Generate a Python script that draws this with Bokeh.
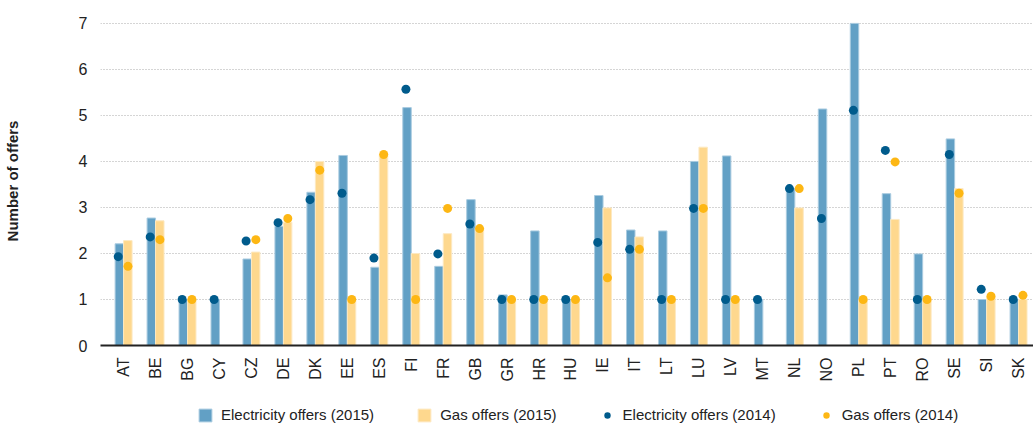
import math
import numpy as np
from bokeh.plotting import figure
from bokeh.layouts import column
from bokeh.models import (ColumnDataSource, FixedTicker, Legend, LegendItem, Range1d)
from bokeh.embed import file_html
from bokeh.resources import INLINE

cats = ["AT", "BE", "BG", "CY", "CZ", "DE", "DK", "EE", "ES", "FI", "FR", "GB", "GR", "HR",
        "HU", "IE", "IT", "LT", "LU", "LV", "MT", "NL", "NO", "PL", "PT", "RO", "SE", "SI", "SK"]
elec15 = [2.21, 2.77, 1.0, 1.0, 1.88, 2.59, 3.33, 4.13, 1.70, 5.17, 1.72, 3.17, 1.10, 2.49,
          1.0, 3.26, 2.51, 2.49, 4.0, 4.12, 1.0, 3.41, 5.14, 7.0, 3.30, 1.99, 4.49, 1.0, 1.0]
gas15 = [2.28, 2.71, 1.0, None, 2.03, 2.68, 4.0, 1.0, 4.15, 2.0, 2.43, 2.55, 1.0, 1.0,
         1.0, 2.99, 2.36, 1.0, 4.31, 1.0, None, 2.99, None, 1.0, 2.74, 1.0, 3.41, 1.05, 1.0]
elec14 = [1.93, 2.36, 1.0, 1.0, 2.27, 2.67, 3.17, 3.31, 1.90, 5.57, 1.99, 2.64, 1.0, 1.0,
          1.0, 2.24, 2.09, 1.0, 2.98, 1.0, 1.0, 3.41, 2.76, 5.11, 4.24, 1.0, 4.15, 1.22, 1.0]
gas14 = [1.72, 2.30, 1.0, None, 2.30, 2.76, 3.81, 1.0, 4.15, 1.0, 2.98, 2.54, 1.0, 1.0,
         1.0, 1.47, 2.09, 1.0, 2.98, 1.0, None, 3.41, None, 1.0, 3.99, 1.0, 3.31, 1.07, 1.09]
y_ticks = [0, 1, 2, 3, 4, 5, 6, 7]
series_labels = ["Electricity offers (2015)", "Gas offers (2015)",
                 "Electricity offers (2014)", "Gas offers (2014)"]

FONT = "Liberation Sans"
COL_E15 = "#62a0c5"
COL_G15 = "#fed88e"
COL_E14 = "#005b8c"
COL_G14 = "#fdb714"
EDGE_E = "#a9cbe0"
EDGE_G = "#fde9c2"


def arr(v):
    return np.array([np.nan if x is None else x for x in v], dtype=float)


idx = np.arange(len(cats), dtype=float)
src = ColumnDataSource(dict(
    x_e=idx - 0.13, x_g=idx + 0.135, x_de=idx - 0.165, x_dg=idx + 0.14,
    elec15=arr(elec15), gas15=arr(gas15), elec14=arr(elec14), gas14=arr(gas14),
))

W = 1033
H1 = 394
H2 = 30

p = figure(width=W, height=H1, output_backend="svg", toolbar_location=None,
           x_range=Range1d(-0.72, 28.47), y_range=Range1d(0, 7.15),
           min_border_left=100, min_border_right=0, min_border_top=16,
           min_border_bottom=H1 - 345)
p.outline_line_color = None

p.vbar(x="x_e", top="elec15", width=0.265, source=src, fill_color=COL_E15,
       line_color=EDGE_E, line_width=1)
p.vbar(x="x_g", top="gas15", width=0.265, source=src, fill_color=COL_G15,
       line_color=EDGE_G, line_width=1)
p.scatter(x="x_de", y="elec14", size=9, source=src, fill_color=COL_E14, line_color=None)
p.scatter(x="x_dg", y="gas14", size=9, source=src, fill_color=COL_G14, line_color=None)

# axes
p.xaxis.ticker = FixedTicker(ticks=list(idx))
p.xaxis.major_label_overrides = {float(i): c for i, c in enumerate(cats)}
p.xaxis.major_label_orientation = math.pi / 2
p.xaxis.major_tick_line_color = None
p.xaxis.minor_tick_line_color = None
p.xaxis.axis_line_color = "#222222"
p.xaxis.axis_line_width = 2
p.xaxis.major_label_standoff = 6
p.xaxis.major_label_text_font = FONT
p.xaxis.major_label_text_font_size = "16px"
p.xaxis.major_label_text_color = "#222222"

p.yaxis.ticker = FixedTicker(ticks=y_ticks)
p.yaxis.axis_line_color = None
p.yaxis.major_tick_line_color = None
p.yaxis.minor_tick_line_color = None
p.yaxis.major_label_standoff = 7
p.yaxis.major_label_text_font = FONT
p.yaxis.major_label_text_font_size = "16px"
p.yaxis.major_label_text_color = "#222222"
p.yaxis.axis_label = "Number of offers"
p.yaxis.axis_label_text_font = FONT
p.yaxis.axis_label_text_font_style = "bold"
p.yaxis.axis_label_text_font_size = "15px"
p.yaxis.axis_label_text_color = "#222222"
p.yaxis.axis_label_standoff = 55

p.xgrid.grid_line_color = None
p.ygrid.grid_line_color = "#aaaaaa"
p.ygrid.grid_line_dash = "1 2"
p.ygrid.grid_line_width = 1

# legend strip (separate figure so nothing is clipped); dummy glyphs lie outside its ranges
lg = figure(width=W, height=H2, output_backend="svg", toolbar_location=None,
            x_range=Range1d(0, 1), y_range=Range1d(0, 1),
            min_border_left=0, min_border_right=0, min_border_top=0, min_border_bottom=0)
lg.outline_line_color = None
lg.axis.visible = False
lg.grid.grid_line_color = None
l1 = lg.vbar(x=[-10], top=[-5], bottom=[-6], width=0.1, fill_color=COL_E15, line_color=EDGE_E)
l2 = lg.vbar(x=[-10], top=[-5], bottom=[-6], width=0.1, fill_color=COL_G15, line_color=EDGE_G)
l3 = lg.scatter(x=[-10], y=[-10], size=9, fill_color=COL_E14, line_color=None)
l4 = lg.scatter(x=[-10], y=[-10], size=9, fill_color=COL_G14, line_color=None)

legend = Legend(items=[
    LegendItem(label=series_labels[0], renderers=[l1]),
    LegendItem(label=series_labels[1], renderers=[l2]),
    LegendItem(label=series_labels[2], renderers=[l3]),
    LegendItem(label=series_labels[3], renderers=[l4]),
], orientation="horizontal", location=(97, 1))
legend.border_line_color = None
legend.background_fill_alpha = 0
legend.padding = 0
legend.margin = 0
legend.spacing = 42
legend.glyph_width = 16
legend.glyph_height = 16
legend.label_standoff = 8
legend.label_text_font = FONT
legend.label_text_font_size = "15px"
legend.label_text_color = "#222222"
lg.add_layout(legend, "center")

layout = column(p, lg, spacing=0)
open("out.html", "w").write(file_html(layout, INLINE))
